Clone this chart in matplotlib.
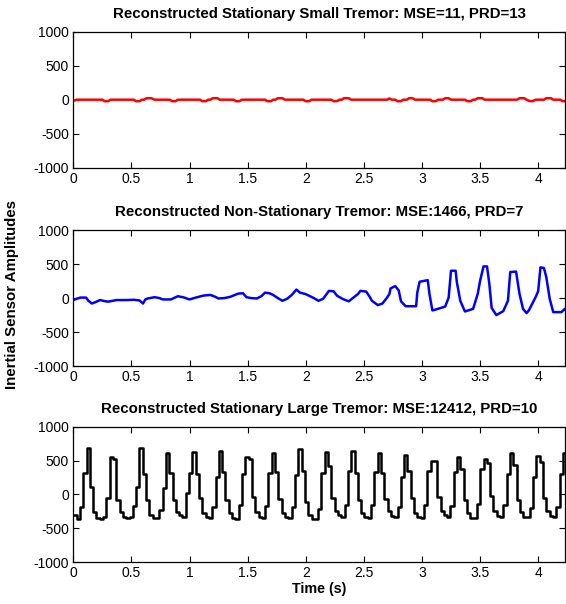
import numpy as np
import matplotlib
matplotlib.use("Agg")
import matplotlib.pyplot as plt

plt.rcParams['font.family'] = ['Liberation Sans', 'DejaVu Sans']
plt.rcParams['axes.unicode_minus'] = False

# ---------------- data ----------------
titles = [
    "Reconstructed Stationary Small Tremor: MSE=11, PRD=13",
    "Reconstructed Non-Stationary Tremor: MSE:1466, PRD=7",
    "Reconstructed Stationary Large Tremor: MSE:12412, PRD=10",
]
x_ticks = [0, 0.5, 1, 1.5, 2, 2.5, 3, 3.5, 4]
x_tick_labels = ["0", "0.5", "1", "1.5", "2", "2.5", "3", "3.5", "4"]
y_ticks = [-1000, -500, 0, 500, 1000]
y_tick_labels = ["-1000", "-500", "0", "500", "1000"]

small_t = [0, 0.03,
           0.25, 0.27, 0.30, 0.32,
           0.52, 0.54, 0.57, 0.59,
           0.61, 0.63, 0.67, 0.70,
           0.83, 0.85, 0.88, 0.90,
           1.09, 1.11, 1.14, 1.16,
           1.18, 1.20, 1.24, 1.26,
           1.38, 1.40, 1.43, 1.45,
           1.65, 1.67, 1.70, 1.72,
           1.74, 1.76, 1.80, 1.82,
           1.98, 2.00, 2.03, 2.05,
           2.22, 2.24, 2.27, 2.29,
           2.31, 2.33, 2.37, 2.39,
           2.70, 2.72, 2.74,
           2.77, 2.79, 2.82, 2.84,
           2.87, 2.89, 2.92, 2.94,
           3.07, 3.09, 3.12, 3.14,
           3.18, 3.20, 3.23, 3.25,
           3.37, 3.39, 3.42, 3.44,
           3.46, 3.48, 3.52, 3.54,
           3.82, 3.84, 3.88, 3.90,
           3.93, 3.95, 3.98,
           4.05, 4.07, 4.11, 4.13,
           4.19, 4.21, 4.25]
small_v = [-15, 0,
           0, -22, -22, 0,
           0, -22, -22, 0,
           0, 22, 22, 0,
           0, -22, -22, 0,
           0, -22, -22, 0,
           0, 22, 22, 0,
           0, -22, -22, 0,
           0, -22, -22, 0,
           0, 22, 22, 0,
           0, -22, -22, 0,
           0, -22, -22, 0,
           0, 22, 22, 0,
           0, 18, 0,
           0, -22, -22, 0,
           0, 22, 22, 0,
           0, -22, -22, 0,
           0, 22, 22, 0,
           0, -22, -22, 0,
           0, 22, 22, 0,
           0, 22, 22, 0,
           -22, -22, 0,
           0, 22, 22, 0,
           0, -22, -22]

nonstat_t = [0, 0.03, 0.06, 0.11, 0.13, 0.16, 0.19, 0.23, 0.27, 0.30, 0.34, 0.37,
             0.46, 0.52, 0.57, 0.60, 0.62, 0.64, 0.70, 0.74, 0.77, 0.84, 0.90, 0.95,
             1.00, 1.06, 1.12, 1.18, 1.22, 1.25, 1.30, 1.35, 1.42, 1.46, 1.49, 1.53,
             1.58, 1.62, 1.65, 1.69, 1.72, 1.76, 1.80, 1.84, 1.88, 1.92, 1.95, 2.00,
             2.07, 2.11, 2.15, 2.18, 2.20, 2.24, 2.27, 2.32, 2.37, 2.42, 2.45, 2.47,
             2.52, 2.55, 2.57, 2.62, 2.66, 2.70, 2.72, 2.73, 2.77, 2.80, 2.82, 2.86,
             2.95, 2.96, 2.98, 3.05, 3.065, 3.09, 3.12, 3.20, 3.23, 3.25, 3.29, 3.30,
             3.33, 3.37, 3.44, 3.48, 3.50, 3.53, 3.56, 3.58, 3.60, 3.64, 3.70, 3.74,
             3.76, 3.81, 3.84, 3.87, 3.90, 3.92, 3.98, 4.00, 4.02, 4.05, 4.07, 4.10,
             4.13, 4.20, 4.23, 4.25]
nonstat_v = [-29, -10, 7, 7, -40, -80, -60, -29, -45, -53, -40, -29,
             -29, -25, -35, -80, -20, -6, 13, 0, -20, -20, 27, 10,
             -20, 10, 37, 46, 20, -6, 0, 18, 66, 71, 13, 0,
             -6, 30, 80, 70, 46, 0, -40, -10, 46, 125, 81, 58,
             0, -40, -10, 60, 106, 100, 34, -14, -48, 20, 60, 106,
             96, 20, -40, -103, -80, 7, 60, 142, 176, 113, -48, -120,
             -120, 81, 240, 264, 58, -182, -168, -125, 7, 402, 402, 240,
             -40, -197, -159, 60, 250, 466, 466, 210, -144, -250, -192, -40,
             383, 390, 58, -159, -221, -182, 20, 100, 452, 442, 310, -14,
             -207, -207, -159, -150]

large_dt = 0.02847
large_v = [-300, -365, -180, 310, 680, 110, -255, -345, -360, -330,
           -60, 555, 530, -80, -265, -335, -355, -330, -170, 110,
           680, 300, -80, -300, -355, -345, -230, 90, 605, 310,
           -85, -255, -305, -330, 15, 310, 627, 300, -60, -270,
           -340, -345, -190, 250, 640, 330, -80, -280, -345, -360,
           -150, 300, 550, 520, -40, -260, -330, -345, -170, 320,
           605, 330, -70, -270, -335, -350, -180, 280, 665, 350,
           -120, -300, -370, -370, -220, 310, 627, 420, -60, -240,
           -310, -335, -150, 340, 640, 320, -90, -280, -340, -345,
           -150, 330, 605, 320, -70, -240, -320, -330, -180, 250,
           580, 350, -60, -270, -340, -345, -160, 340, 500, 490,
           -40, -250, -310, -330, -170, 330, 555, 380, -90, -280,
           -350, -350, -140, 380, 530, 470, -30, -240, -320, -340,
           -160, 300, 610, 430, -80, -260, -330, -340, -200, 260,
           565, 480, -50, -250, -320, -340, -180, 300, 610, 610]
large_t = np.arange(len(large_v)) * large_dt

# ---------------- figure ----------------
fig = plt.figure(figsize=(5.66, 6.04), dpi=100)
left, width = 0.1295, 0.8685
rects = [(left, 0.7224, width, 0.2251),
         (left, 0.3940, width, 0.2250),
         (left, 0.0695, width, 0.2240)]

axes = [fig.add_axes(r) for r in rects]

axes[0].plot(small_t, small_v, color='#ff0000', lw=1.8)
axes[1].plot(nonstat_t, nonstat_v, color='#0000ff', lw=1.8)
axes[2].plot(large_t, large_v, color='black', lw=1.8, drawstyle='steps-post')

for ax, title in zip(axes, titles):
    ax.set_xlim(0, 4.23)
    ax.set_ylim(-1000, 1000)
    ax.set_xticks(x_ticks)
    ax.set_xticklabels(x_tick_labels)
    ax.set_yticks(y_ticks)
    ax.set_yticklabels(y_tick_labels)
    ax.tick_params(direction='in', top=True, right=True, length=4, width=0.8,
                   labelsize=10, pad=3)
    for s in ax.spines.values():
        s.set_linewidth(0.9)
    ax.set_title(title, fontsize=10.8, fontweight='bold', pad=10)

axes[2].set_xlabel("Time (s)", fontsize=10.3, fontweight='bold', labelpad=1)
fig.text(0.022, 0.512, "Inertial Sensor Amplitudes", rotation=90,
         ha='center', va='center', fontsize=10.8, fontweight='bold')

fig.savefig("out.png", dpi=100)
